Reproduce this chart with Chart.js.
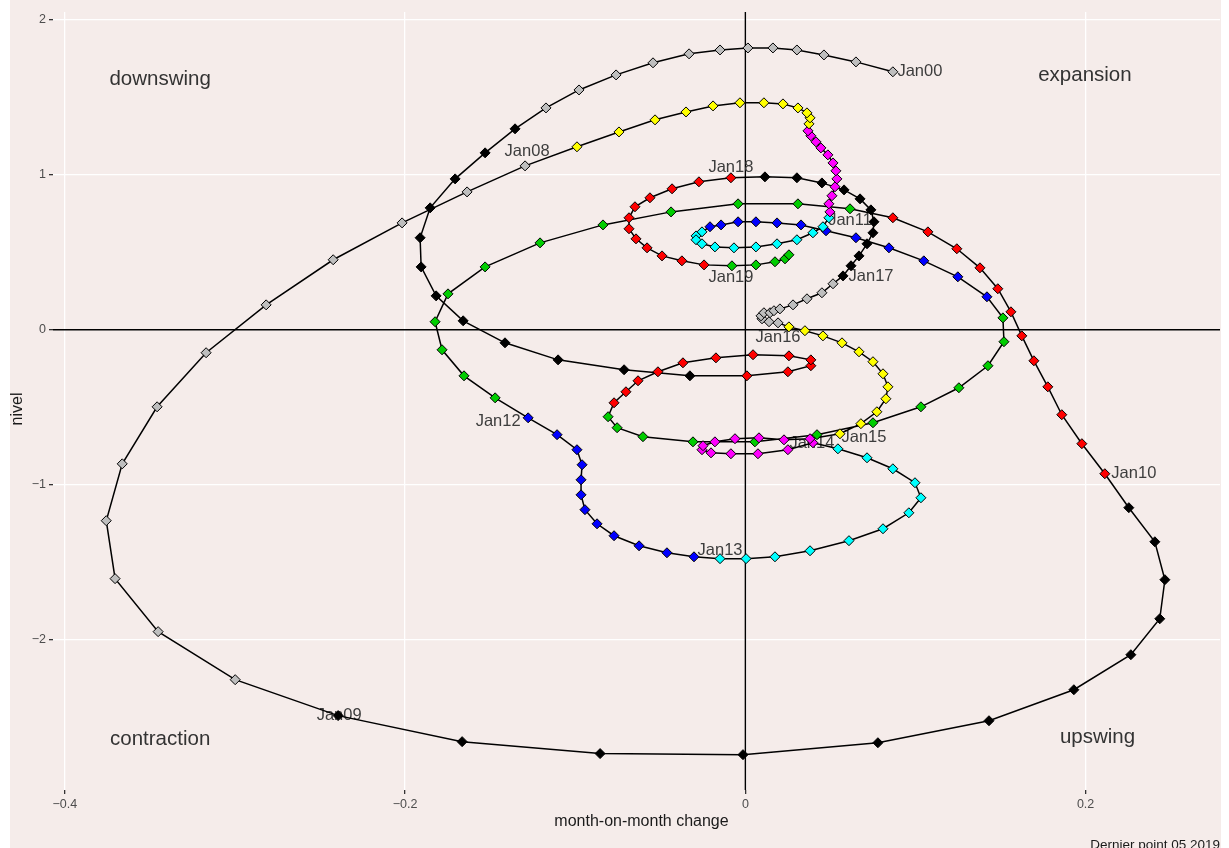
<!DOCTYPE html>
<html><head><meta charset="utf-8">
<script src="https://cdn.jsdelivr.net/npm/chart.js@4.4.1/dist/chart.umd.min.js"></script>
<style>html,body{margin:0;padding:0;background:#fff;}canvas{display:block}</style>
</head><body>
<canvas id="c" width="1229" height="848"></canvas>
<script>
// month-on-month change (x) and level "nivel" (y), one pair of arrays per year, Jan..Dec
const x00 = [0.0867,0.0650,0.0462,0.0303,0.0162,0.0015,-0.0149,-0.0331,-0.0543,-0.0760,-0.0978,-0.1172];
const y00 = [1.665,1.729,1.774,1.806,1.819,1.819,1.806,1.781,1.723,1.645,1.548,1.432];
const x01 = [-0.1354,-0.1530,-0.1706,-0.1853,-0.1912,-0.1906,-0.1818,-0.1659,-0.1413,-0.1101,-0.0713,-0.0326];
const y01 = [1.297,1.142,0.974,0.787,0.594,0.406,0.219,0.058,-0.084,-0.194,-0.258,-0.297];
const x02 = [0.0009,0.0250,0.0385,0.0385,0.0256,0.0045,-0.0173,-0.0367,-0.0514,-0.0631,-0.0702,-0.0772];
const y02 = [-0.297,-0.271,-0.232,-0.194,-0.168,-0.161,-0.181,-0.213,-0.271,-0.329,-0.400,-0.471];
const x03 = [-0.0807,-0.0754,-0.0602,-0.0308,0.0056,0.0421,0.0750,0.1032,0.1255,0.1426,0.1520,0.1514];
const y03 = [-0.561,-0.632,-0.690,-0.723,-0.723,-0.677,-0.600,-0.497,-0.374,-0.232,-0.077,0.077];
const x04 = [0.1420,0.1249,0.1049,0.0844,0.0650,0.0474,0.0327,0.0186,0.0062,-0.0043,-0.0143,-0.0208];
const y04 = [0.213,0.342,0.445,0.529,0.594,0.639,0.677,0.690,0.697,0.697,0.677,0.665];
const x05 = [-0.0255,-0.0290,-0.0290,-0.0255,-0.0179,-0.0067,0.0062,0.0186,0.0303,0.0397,0.0456,0.0491];
const y05 = [0.632,0.606,0.581,0.555,0.535,0.529,0.535,0.555,0.581,0.626,0.665,0.723];
const x06 = [0.0497,0.0491,0.0509,0.0527,0.0538,0.0532,0.0515,0.0485,0.0444,0.0415,0.0385,0.0368];
const y06 = [0.761,0.813,0.865,0.923,0.974,1.026,1.077,1.129,1.174,1.213,1.252,1.284];
const x07 = [0.0374,0.0380,0.0362,0.0309,0.0221,0.0109,-0.0032,-0.0190,-0.0349,-0.0531,-0.0743,-0.0990];
const y07 = [1.329,1.368,1.400,1.432,1.458,1.465,1.465,1.445,1.406,1.355,1.277,1.181];
const x08 = [-0.1295,-0.1636,-0.2018,-0.2423,-0.2817,-0.3170,-0.3458,-0.3663,-0.3757,-0.3705,-0.3452,-0.2999];
const y08 = [1.058,0.890,0.690,0.452,0.161,-0.148,-0.497,-0.865,-1.232,-1.606,-1.948,-2.258];
const x09 = [-0.2394,-0.1665,-0.0854,-0.0014,0.0779,0.1432,0.1931,0.2266,0.2436,0.2466,0.2407,0.2254];
const y09 = [-2.490,-2.658,-2.735,-2.742,-2.665,-2.523,-2.323,-2.097,-1.865,-1.613,-1.368,-1.148];
const x10 = [0.2113,0.1978,0.1860,0.1778,0.1696,0.1625,0.1561,0.1484,0.1379,0.1243,0.1073,0.0867];
const y10 = [-0.929,-0.735,-0.548,-0.368,-0.200,-0.039,0.116,0.265,0.400,0.523,0.632,0.723];
const x11 = [0.0615,0.0309,-0.0043,-0.0437,-0.0837,-0.1207,-0.1530,-0.1748,-0.1824,-0.1783,-0.1654,-0.1471];
const y11 = [0.781,0.813,0.813,0.761,0.677,0.561,0.406,0.232,0.052,-0.129,-0.297,-0.439];
const x12 = [-0.1277,-0.1107,-0.0990,-0.0960,-0.0966,-0.0966,-0.0943,-0.0872,-0.0772,-0.0625,-0.0461,-0.0302];
const y12 = [-0.568,-0.677,-0.774,-0.871,-0.968,-1.065,-1.161,-1.252,-1.329,-1.394,-1.439,-1.465];
const x13 = [-0.0149,0.0004,0.0174,0.0380,0.0609,0.0809,0.0961,0.1032,0.0997,0.0867,0.0715,0.0544];
const y13 = [-1.477,-1.477,-1.465,-1.426,-1.361,-1.284,-1.181,-1.084,-0.987,-0.897,-0.826,-0.768];
const x14 = [0.0397,0.0250,0.0074,-0.0085,-0.0202,-0.0255,-0.0249,-0.0179,-0.0061,0.0080,0.0227,0.0380];
const y14 = [-0.729,-0.774,-0.800,-0.800,-0.794,-0.774,-0.748,-0.723,-0.703,-0.697,-0.710,-0.703];
const x15 = [0.0556,0.0679,0.0773,0.0826,0.0838,0.0809,0.0750,0.0668,0.0568,0.0456,0.0350,0.0256];
const y15 = [-0.671,-0.606,-0.529,-0.445,-0.368,-0.284,-0.206,-0.142,-0.084,-0.039,-0.006,0.019];
const x16 = [0.0192,0.0139,0.0098,0.0092,0.0109,0.0145,0.0168,0.0203,0.0280,0.0362,0.0450,0.0515];
const y16 = [0.045,0.052,0.071,0.090,0.110,0.110,0.123,0.135,0.161,0.200,0.239,0.297];
const x17 = [0.0574,0.0621,0.0668,0.0715,0.0750,0.0756,0.0738,0.0674,0.0580,0.0450,0.0303,0.0115];
const y17 = [0.348,0.413,0.477,0.555,0.626,0.697,0.774,0.845,0.903,0.948,0.981,0.987];
const x18 = [-0.0085,-0.0273,-0.0431,-0.0561,-0.0649,-0.0684,-0.0684,-0.0643,-0.0578,-0.0490,-0.0373,-0.0243];
const y18 = [0.981,0.955,0.910,0.852,0.794,0.723,0.652,0.587,0.529,0.477,0.445,0.419];
const x19 = [-0.0079,0.0062,0.0174,0.0233,0.0256];
const y19 = [0.413,0.419,0.439,0.458,0.484];

const startYear = 2000;
const xByYear = [x00,x01,x02,x03,x04,x05,x06,x07,x08,x09,x10,x11,x12,x13,x14,x15,x16,x17,x18,x19];
const yByYear = [y00,y01,y02,y03,y04,y05,y06,y07,y08,y09,y10,y11,y12,y13,y14,y15,y16,y17,y18,y19];
// R default palette, cycling by year (2000 -> gray)
const yearPalette = ['#BEBEBE','#000000','#FF0000','#00CD00','#0000FF','#00FFFF','#FF00FF','#FFFF00'];

const xTicks = [-0.4,-0.2,0,0.2];
const yTicks = [-2,-1,0,1,2];

const dateLabels = ['Jan00','Jan08','Jan09','Jan10','Jan11','Jan12','Jan13','Jan14','Jan15','Jan16','Jan17','Jan18','Jan19'];
const quadrantNames = ['downswing','expansion','contraction','upswing'];
const quadrantX = [-0.344,0.1996,-0.344,0.207];
const quadrantY = [1.619,1.645,-2.645,-2.632];

const xTitle = 'month-on-month change';
const yTitle = 'nivel';
const caption = 'Dernier point 05 2019';

// ---- styling / layout (not data) ----
const labelOffsetPx = {Jan00:[27,0],Jan08:[2,-14],Jan09:[1,0],Jan10:[29,0],Jan11:[0,12],Jan12:[-30,4],Jan13:[0,-8],
  Jan14:[-1,1],Jan15:[24,4],Jan16:[0,15],Jan17:[28,1],Jan18:[0,-10],Jan19:[-1,12]};
const PINK = '#f5ecea';
const FONT = "'Liberation Sans', Arial, Helvetica, sans-serif";

const points = [];
xByYear.forEach((xs, i) => {
  xs.forEach((xv, m) => points.push({x: xv, y: yByYear[i][m], year: startYear + i}));
});
const colorOf = p => yearPalette[(p.year - startYear) % yearPalette.length];

const decor = {
  id: 'decor',
  beforeDraw(chart) {
    const c = chart.ctx;
    c.save();
    c.fillStyle = '#ffffff'; c.fillRect(0, 0, chart.width, chart.height);
    c.fillStyle = PINK; c.fillRect(10, 0, 1211, chart.height);
    c.restore();
  },
  beforeDatasetsDraw(chart) {
    const c = chart.ctx, a = chart.chartArea, xs = chart.scales.x, ys = chart.scales.y;
    c.save();
    c.strokeStyle = '#000'; c.lineWidth = 1.4;
    const x0 = xs.getPixelForValue(0), y0 = ys.getPixelForValue(0);
    c.beginPath(); c.moveTo(a.left, y0); c.lineTo(a.right, y0); c.stroke();
    c.beginPath(); c.moveTo(x0, a.top); c.lineTo(x0, a.bottom); c.stroke();
    // quadrant names
    c.fillStyle = '#333333'; c.textAlign = 'center'; c.textBaseline = 'middle';
    c.font = '20.5px ' + FONT;
    quadrantNames.forEach((t, i) => c.fillText(t, xs.getPixelForValue(quadrantX[i]), ys.getPixelForValue(quadrantY[i])));
    // date labels
    c.font = '16.5px ' + FONT; c.fillStyle = '#3d3d3d';
    dateLabels.forEach(t => {
      const idx = (parseInt(t.slice(3), 10)) * 12;
      const p = points[idx];
      const off = labelOffsetPx[t] || [0, 0];
      c.fillText(t, xs.getPixelForValue(p.x) + off[0], ys.getPixelForValue(p.y) + off[1]);
    });
    c.restore();
  },
  afterDraw(chart) {
    const c = chart.ctx, a = chart.chartArea;
    c.save();
    c.fillStyle = '#1a1a1a';
    c.font = '16px ' + FONT; c.textAlign = 'center'; c.textBaseline = 'middle';
    c.fillText(xTitle, (a.left + a.right) / 2 + 5, 822);
    c.translate(18, (a.top + a.bottom) / 2 + 8); c.rotate(-Math.PI / 2);
    c.fillText(yTitle, 0, 0);
    c.restore();
    c.save();
    c.fillStyle = '#1a1a1a'; c.font = '13.5px ' + FONT; c.textAlign = 'right'; c.textBaseline = 'alphabetic';
    c.fillText(caption, 1220, 849);
    c.restore();
  }
};

const fmt = v => (v < 0 ? '\u2212' : '') + String(Math.abs(Math.round(v * 10) / 10));

new Chart(document.getElementById('c'), {
  type: 'scatter',
  data: {
    datasets: [{
      data: points,
      showLine: true,
      borderColor: '#000',
      borderWidth: 1.5,
      tension: 0,
      pointStyle: 'rectRot',
      pointRadius: 5,
      pointBorderWidth: 1,
      pointBorderColor: '#000',
      pointBackgroundColor: ctx => colorOf(ctx.raw),
      clip: false
    }]
  },
  options: {
    responsive: false,
    animation: false,
    devicePixelRatio: 1,
    layout: { padding: { left: 0, right: 9, top: 12, bottom: 0 } },
    plugins: { legend: { display: false }, tooltip: { enabled: false } },
    scales: {
      x: {
        type: 'linear', min: -0.407, max: 0.279,
        afterBuildTicks: s => { s.ticks = xTicks.map(v => ({ value: v })); },
        afterFit: s => { s.height = 58; },
        border: { display: false },
        grid: { color: '#ffffff', lineWidth: 1.3, tickColor: '#333333', tickLength: 4, drawTicks: true },
        ticks: { color: '#4d4d4d', font: { family: FONT, size: 12.5 }, padding: 3, callback: fmt, maxRotation: 0 }
      },
      y: {
        type: 'linear', min: -2.97, max: 2.051,
        afterBuildTicks: s => { s.ticks = yTicks.map(v => ({ value: v })); },
        afterFit: s => { s.width = 53; },
        border: { display: false },
        grid: { color: '#ffffff', lineWidth: 1.3, tickColor: '#333333', tickLength: 4, drawTicks: true },
        ticks: { color: '#4d4d4d', font: { family: FONT, size: 12.5 }, padding: 3, callback: fmt }
      }
    }
  },
  plugins: [decor]
});
</script>
</body></html>
